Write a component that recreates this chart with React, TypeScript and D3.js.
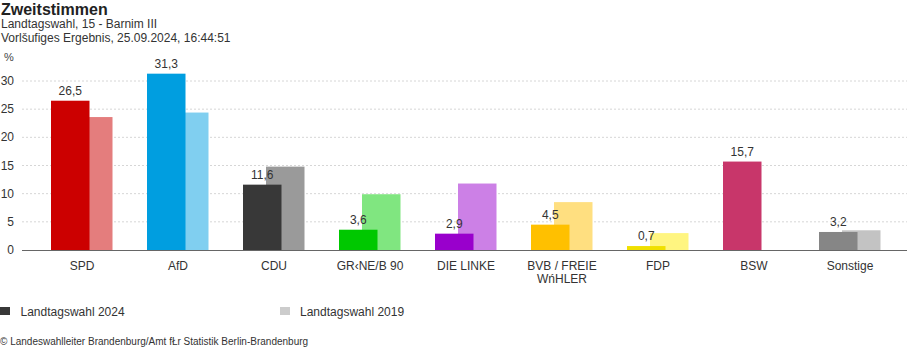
import * as d3 from 'd3';

const parties = ['SPD', 'AfD', 'CDU', 'GR‹NE/B 90', 'DIE LINKE', 'BVB / FREIE WńHLER', 'FDP', 'BSW', 'Sonstige'];
const labelLines = [['SPD'], ['AfD'], ['CDU'], ['GR‹NE/B 90'], ['DIE LINKE'], ['BVB / FREIE', 'WńHLER'], ['FDP'], ['BSW'], ['Sonstige']];
const values2024 = [26.5, 31.3, 11.6, 3.6, 2.9, 4.5, 0.7, 15.7, 3.2];
const values2019: (number | null)[] = [23.6, 24.4, 14.8, 9.9, 11.8, 8.5, 3.0, null, 3.5];
const colors2024 = ['#cc0000', '#009ee0', '#383838', '#00c800', '#9900cc', '#ffc000', '#f0e000', '#c8366a', '#868686'];
const colors2019 = ['#e47d7d', '#80cff0', '#9a9a9a', '#80e680', '#cc80e6', '#ffdf80', '#fff580', '#e59ab4', '#c3c3c3'];
const yTicks = [0, 5, 10, 15, 20, 25, 30];

const W = 908;
const H = 352;
const font = '"Liberation Sans", Arial, sans-serif';

const App = () => {
  const x = d3.scaleBand<string>().domain(parties).range([34, 898]).padding(0);
  const y = d3.scaleLinear().domain([0, 30]).range([250, 81]);
  const barW = 38.5;
  const fmt = (v: number) => d3.format('.1f')(v).replace('.', ',');

  return (
    <div style={{position: 'absolute', left: 0, top: 0}}>
      <svg width={W} height={H} style={{fontFamily: font, display: 'block'}}>
        <rect width={W} height={H} fill='#fff' />
        <text x={1} y={14.5} fontSize={16} fontWeight='bold' fill='#222'>Zweitstimmen</text>
        <text x={1} y={28} fontSize={12} fill='#333'>Landtagswahl, 15 - Barnim III</text>
        <text x={1} y={42} fontSize={12} fill='#333'>Vorlšufiges Ergebnis, 25.09.2024, 16:44:51</text>
        <text x={4} y={61} fontSize={11} fill='#444'>%</text>

        {/* grid */}
        {yTicks.filter((t) => t > 0).map((t) => (
          <line key={t} x1={22} x2={907} y1={y(t)} y2={y(t)} stroke='#d6d6d6' strokeDasharray='2,2' />
        ))}
        {yTicks.map((t) => (
          <text key={'l' + t} x={14} y={y(t) + 4} textAnchor='end' fontSize={12} fill='#333'>{t}</text>
        ))}

        {/* bars 2019 behind */}
        {parties.map((p, i) => {
          const v = values2019[i];
          if (v == null) return null;
          const cx = x(p)! + x.bandwidth() / 2;
          return <rect key={'b19' + p} x={cx - 8} width={barW} y={y(v)} height={y(0) - y(v)} fill={colors2019[i]} />;
        })}
        {parties.map((p, i) => {
          const v = values2024[i];
          const cx = x(p)! + x.bandwidth() / 2;
          return <rect key={'b24' + p} x={cx - 31} width={barW} y={y(v)} height={y(0) - y(v)} fill={colors2024[i]} />;
        })}
        {parties.map((p, i) => {
          const v = values2024[i];
          const cx = x(p)! + x.bandwidth() / 2;
          return (
            <text key={'v' + p} x={cx - 31 + barW / 2} y={y(v) - 6} textAnchor='middle' fontSize={12} fill='#333'>
              {fmt(v)}
            </text>
          );
        })}

        <line x1={22} x2={907} y1={y(0) + 0.5} y2={y(0) + 0.5} stroke='#666' />

        {parties.map((p, i) => {
          const cx = x(p)! + x.bandwidth() / 2;
          return (
            <text key={'c' + p} x={cx} y={270} textAnchor='middle' fontSize={12} fill='#333'>
              {labelLines[i].map((ln, j) => (
                <tspan key={j} x={cx} dy={j === 0 ? 0 : 13}>{ln}</tspan>
              ))}
            </text>
          );
        })}

        {/* legend */}
        <rect x={0} y={307} width={10} height={8} fill='#383838' />
        <text x={20.5} y={315.5} fontSize={12} fill='#333'>Landtagswahl 2024</text>
        <rect x={280} y={307} width={10} height={8} fill='#cccccc' />
        <text x={300} y={315.5} fontSize={12} fill='#333'>Landtagswahl 2019</text>

        <text x={0} y={345} fontSize={10} fill='#333'>© Landeswahlleiter Brandenburg/Amt fŁr Statistik Berlin-Brandenburg</text>
      </svg>
    </div>
  );
};

export default App;
